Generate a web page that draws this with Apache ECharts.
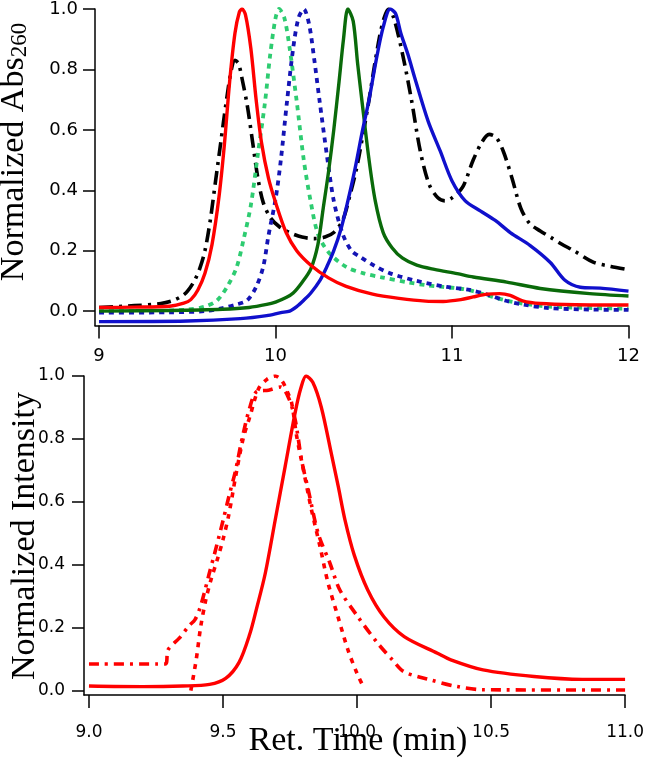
<!DOCTYPE html>
<html>
<head>
<meta charset="utf-8">
<script src="https://cdn.jsdelivr.net/npm/echarts@6/dist/echarts.min.js"></script>
<style>
html,body{margin:0;padding:0;background:#fff;}
#chart{width:647px;height:762px;}
</style>
</head>
<body>
<div id="chart"></div>
<script>
// ---------- data ----------
const topTicksX = [9, 10, 11, 12];
const topTicksY = [0, 0.2, 0.4, 0.6, 0.8, 1.0];
const botTicksX = [9.0, 9.5, 10.0, 10.5, 11.0];
const botTicksY = [0, 0.2, 0.4, 0.6, 0.8, 1.0];

const topBlack = [[9.0,0.012],[9.2,0.018],[9.35,0.025],[9.42,0.035],[9.47,0.05],[9.5,0.065],[9.54,0.1],[9.57,0.14],[9.6,0.2],[9.63,0.3],[9.66,0.43],[9.69,0.56],[9.72,0.69],[9.75,0.8],[9.77,0.83],[9.79,0.82],[9.81,0.77],[9.84,0.68],[9.87,0.56],[9.9,0.44],[9.93,0.36],[9.97,0.31],[10.02,0.28],[10.08,0.26],[10.15,0.245],[10.22,0.24],[10.28,0.245],[10.33,0.26],[10.38,0.3],[10.42,0.38],[10.46,0.475],[10.5,0.6],[10.53,0.7],[10.56,0.81],[10.59,0.91],[10.615,0.97],[10.64,1.0],[10.67,0.97],[10.72,0.85],[10.77,0.7],[10.82,0.53],[10.87,0.42],[10.92,0.375],[10.96,0.365],[11.0,0.375],[11.06,0.41],[11.12,0.5],[11.17,0.56],[11.21,0.585],[11.25,0.575],[11.29,0.53],[11.34,0.44],[11.39,0.34],[11.44,0.29],[11.5,0.265],[11.56,0.244],[11.62,0.222],[11.69,0.2],[11.8,0.162],[11.9,0.148],[12.0,0.137]];
const topRed = [[9.0,0.012],[9.2,0.013],[9.4,0.016],[9.48,0.026],[9.52,0.038],[9.56,0.07],[9.6,0.125],[9.64,0.22],[9.68,0.38],[9.71,0.55],[9.74,0.76],[9.77,0.92],[9.795,0.99],[9.81,1.0],[9.83,0.98],[9.86,0.87],[9.89,0.70],[9.92,0.56],[9.96,0.44],[10.0,0.36],[10.06,0.26],[10.12,0.2],[10.2,0.152],[10.3,0.11],[10.4,0.082],[10.55,0.056],[10.7,0.042],[10.85,0.033],[10.95,0.032],[11.05,0.038],[11.12,0.047],[11.2,0.056],[11.27,0.058],[11.33,0.052],[11.4,0.034],[11.5,0.025],[11.7,0.021],[12.0,0.02]];
const topGreenDot = [[9.0,0.0],[9.3,0.0],[9.5,0.005],[9.6,0.015],[9.67,0.036],[9.73,0.085],[9.78,0.146],[9.82,0.24],[9.86,0.35],[9.9,0.52],[9.94,0.69],[9.97,0.85],[10.0,0.97],[10.02,1.0],[10.05,0.97],[10.08,0.87],[10.12,0.694],[10.16,0.5],[10.2,0.36],[10.24,0.256],[10.3,0.195],[10.4,0.146],[10.5,0.125],[10.6,0.112],[10.75,0.095],[10.85,0.086],[10.95,0.08],[11.05,0.074],[11.12,0.066],[11.2,0.052],[11.3,0.036],[11.4,0.025],[11.55,0.015],[11.8,0.01],[12.0,0.008]];
const topBlueDot = [[9.0,-0.005],[9.4,-0.004],[9.6,0.0],[9.7,0.01],[9.78,0.022],[9.84,0.036],[9.89,0.08],[9.93,0.146],[9.96,0.25],[10.0,0.37],[10.03,0.5],[10.065,0.694],[10.1,0.87],[10.13,0.97],[10.16,1.0],[10.19,0.95],[10.22,0.83],[10.25,0.694],[10.29,0.52],[10.33,0.365],[10.38,0.256],[10.43,0.2],[10.48,0.179],[10.56,0.15],[10.65,0.125],[10.8,0.1],[10.97,0.08],[11.1,0.07],[11.2,0.055],[11.3,0.035],[11.4,0.022],[11.55,0.01],[11.8,0.005],[12.0,0.004]];
const topDarkGreen = [[9.0,0.0],[9.4,0.002],[9.7,0.006],[9.85,0.012],[9.95,0.022],[10.0,0.03],[10.06,0.045],[10.1,0.06],[10.15,0.095],[10.2,0.14],[10.24,0.22],[10.27,0.34],[10.3,0.46],[10.33,0.6],[10.36,0.76],[10.385,0.9],[10.41,1.0],[10.44,0.96],[10.465,0.82],[10.49,0.694],[10.53,0.5],[10.565,0.365],[10.61,0.26],[10.66,0.21],[10.72,0.175],[10.8,0.152],[10.9,0.138],[11.03,0.124],[11.12,0.113],[11.31,0.096],[11.5,0.075],[11.78,0.058],[12.0,0.05]];
const topBlue = [[9.0,-0.035],[9.5,-0.033],[9.8,-0.025],[9.95,-0.015],[10.03,-0.005],[10.08,0.0],[10.12,0.015],[10.16,0.036],[10.2,0.06],[10.25,0.1],[10.29,0.146],[10.33,0.2],[10.37,0.27],[10.41,0.365],[10.45,0.47],[10.49,0.59],[10.53,0.7],[10.57,0.83],[10.61,0.94],[10.65,1.0],[10.68,0.985],[10.71,0.92],[10.75,0.85],[10.79,0.77],[10.865,0.628],[10.933,0.53],[11.0,0.431],[11.075,0.365],[11.16,0.332],[11.245,0.3],[11.33,0.26],[11.443,0.217],[11.557,0.161],[11.64,0.102],[11.727,0.079],[11.84,0.076],[12.0,0.066]];

const botSolid = [[9.0,0.015],[9.2,0.013],[9.35,0.015],[9.45,0.02],[9.51,0.039],[9.56,0.09],[9.6,0.18],[9.625,0.26],[9.658,0.374],[9.695,0.543],[9.732,0.713],[9.769,0.883],[9.79,0.96],[9.81,1.0],[9.835,0.98],[9.867,0.9],[9.905,0.75],[9.93,0.649],[9.955,0.543],[9.99,0.43],[10.04,0.32],[10.1,0.235],[10.176,0.172],[10.3,0.119],[10.35,0.098],[10.47,0.066],[10.66,0.045],[10.84,0.036],[11.0,0.036]];
const botDashed = [[9.38,0.0],[9.40,0.098],[9.417,0.204],[9.436,0.289],[9.455,0.352],[9.48,0.42],[9.5,0.48],[9.522,0.56],[9.547,0.68],[9.575,0.8],[9.6,0.87],[9.633,0.96],[9.665,0.99],[9.695,1.0],[9.72,0.985],[9.74,0.95],[9.756,0.915],[9.775,0.808],[9.8,0.702],[9.83,0.575],[9.862,0.458],[9.892,0.342],[9.929,0.235],[9.966,0.13],[10.0,0.055],[10.025,0.01]];
const botDashDot = [[9.0,0.085],[9.285,0.085],[9.295,0.13],[9.337,0.167],[9.374,0.207],[9.395,0.225],[9.413,0.26],[9.43,0.31],[9.448,0.37],[9.47,0.44],[9.5,0.54],[9.522,0.617],[9.547,0.70],[9.571,0.8],[9.6,0.9],[9.625,0.95],[9.67,0.955],[9.715,0.965],[9.745,0.93],[9.769,0.862],[9.793,0.734],[9.818,0.639],[9.855,0.5],[9.899,0.405],[9.936,0.32],[10.003,0.235],[10.077,0.151],[10.13,0.1],[10.176,0.06],[10.275,0.034],[10.374,0.013],[10.47,0.003],[11.0,0.002]];

// ---------- chart ----------
const chart = echarts.init(document.getElementById('chart'), null, {renderer: 'canvas'});
const SANS = 'DejaVu Sans, Arial, sans-serif';
const SERIF = 'Liberation Serif, Times New Roman, serif';
const axLine = {show: true, onZero: false, lineStyle: {color: '#000', width: 1.5}};

function line(data, xi, color, width, type, z) {
  return {
    type: 'line', xAxisIndex: xi, yAxisIndex: xi, data: data,
    showSymbol: false, symbol: 'none', smooth: 0.3,
    lineStyle: {color: color, width: width, type: type, cap: 'butt', join: 'round'},
    z: z, animation: false
  };
}

const option = {
  backgroundColor: '#fff',
  animation: false,
  grid: [
    {left: 95, top: 7, width: 533.5, height: 318.6},
    {left: 84, top: 376, width: 545.3, height: 319}
  ],
  xAxis: [
    {gridIndex: 0, type: 'value', min: 8.977, max: 12,
     axisLine: axLine,
     axisTick: {show: true, length: 13, customValues: topTicksX, lineStyle: {color: '#000', width: 1.5}},
     axisLabel: {customValues: topTicksX, color: '#000', fontSize: 18, fontFamily: SANS, margin: 22,
                 formatter: v => String(Math.round(v))},
     splitLine: {show: false}},
    {gridIndex: 1, type: 'value', min: 8.9815, max: 11,
     axisLine: axLine,
     axisTick: {show: true, length: 13, customValues: botTicksX, lineStyle: {color: '#000', width: 1.5}},
     axisLabel: {customValues: botTicksX, color: '#000', fontSize: 17, fontFamily: SANS, margin: 29,
                 formatter: v => v.toFixed(1)},
     splitLine: {show: false}}
  ],
  yAxis: [
    {gridIndex: 0, type: 'value', min: -0.048, max: 1.0,
     axisLine: axLine,
     axisTick: {show: true, length: 12, customValues: topTicksY, lineStyle: {color: '#000', width: 1.5}},
     axisLabel: {customValues: topTicksY, color: '#000', fontSize: 18, fontFamily: SANS, margin: 17,
                 formatter: v => v.toFixed(1)},
     splitLine: {show: false}},
    {gridIndex: 1, type: 'value', min: -0.0137, max: 1.0,
     axisLine: axLine,
     axisTick: {show: true, length: 12, customValues: botTicksY, lineStyle: {color: '#000', width: 1.5}},
     axisLabel: {customValues: botTicksY, color: '#000', fontSize: 17, fontFamily: SANS, margin: 19,
                 formatter: v => v.toFixed(1)},
     splitLine: {show: false}}
  ],
  series: [
    line(topBlack, 0, '#000000', 3.6, [14, 6, 3, 6], 2),
    line(topGreenDot, 0, '#2ecc71', 3.8, [5, 5], 3),
    line(topBlueDot, 0, '#1414b4', 3.8, [5, 5], 4),
    line(topDarkGreen, 0, '#0a6a0a', 3.4, 'solid', 5),
    line(topBlue, 0, '#1010cc', 3.4, 'solid', 6),
    line(topRed, 0, '#ff0000', 3.4, 'solid', 7),
    line(botDashDot, 1, '#ff0000', 3.6, [10, 6, 3, 6], 2),
    line(botDashed, 1, '#ff0000', 3.6, [5, 6], 3),
    line(botSolid, 1, '#ff0000', 3.4, 'solid', 4)
  ],
  graphic: [
    {type: 'text', x: 14, y: 152, rotation: Math.PI / 2,
     style: {text: '{a|Normalized Abs}{b|260}', align: 'center', verticalAlign: 'middle', fill: '#000',
             rich: {a: {fontSize: 34, fontFamily: SERIF, lineHeight: 34, verticalAlign: 'top', fill: '#000'},
                    b: {fontSize: 23, fontFamily: SERIF, lineHeight: 23, padding: [19, 0, 0, 0], verticalAlign: 'bottom', fill: '#000'}}}},
    {type: 'text', x: 25, y: 536, rotation: Math.PI / 2,
     style: {text: 'Normalized Intensity', align: 'center', verticalAlign: 'middle', fill: '#000',
             font: '34px ' + SERIF}},
    {type: 'text', x: 358, y: 741,
     style: {text: 'Ret. Time (min)', align: 'center', verticalAlign: 'middle', fill: '#000',
             font: '34px ' + SERIF}}
  ]
};
chart.setOption(option);
</script>
</body>
</html>
